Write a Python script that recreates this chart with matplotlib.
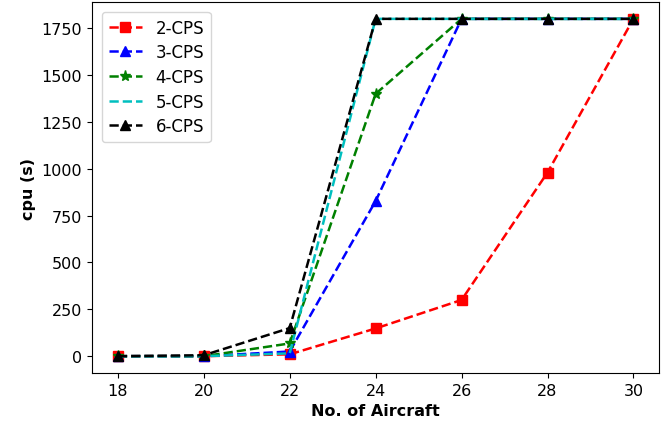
import matplotlib
matplotlib.use("Agg")
import matplotlib.pyplot as plt

aircraft = [18, 20, 22, 24, 26, 28, 30]
cps2 = [0, 0, 10, 148, 300, 980, 1800]
cps3 = [0, 0, 25, 828, 1800, 1800, 1800]
cps4 = [0, 0, 68, 1400, 1800, 1800, 1800]
cps5 = [0, 0, 15, 1800, 1800, 1800, 1800]
cps6 = [0, 5, 150, 1800, 1800, 1800, 1800]

fig = plt.figure(figsize=(6.72, 4.27), dpi=100)
ax = fig.add_axes([0.137, 0.124, 0.844, 0.869])
lw = 1.8
ax.plot(aircraft, cps2, 'rs--', label='2-CPS', markersize=7, lw=lw)
ax.plot(aircraft, cps3, 'b^--', label='3-CPS', markersize=7, lw=lw)
ax.plot(aircraft, cps4, 'g*--', label='4-CPS', markersize=8, lw=lw)
ax.plot(aircraft, cps5, 'c--', label='5-CPS', lw=lw)
ax.plot(aircraft, cps6, 'k^--', label='6-CPS', markersize=7, lw=lw)
ax.set_xticks(aircraft)
ax.tick_params(labelsize=11.5)
ax.set_xlabel('No. of Aircraft', fontsize=11.5, fontweight='bold')
ax.set_ylabel('cpu (s)', fontsize=11.5, fontweight='bold')
ax.legend(loc='upper left', fontsize=12, borderaxespad=0.6, labelspacing=0.4)
fig.savefig('out.png', dpi=100)
